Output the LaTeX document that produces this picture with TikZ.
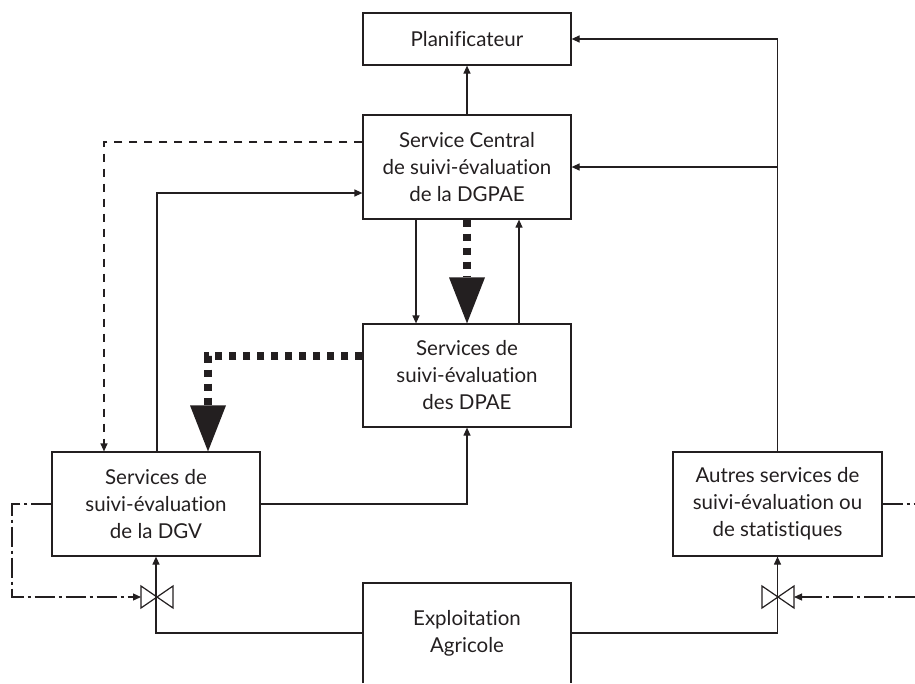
\documentclass[tikz,border=0pt]{standalone}
\usepackage{fontspec}
\setmainfont{Lato}[Ligatures={NoCommon}]
\usetikzlibrary{arrows.meta}
\definecolor{ink}{RGB}{35,31,32}
\begin{document}
\begin{tikzpicture}[x=1pt,y=-1pt,
  box/.style={draw=ink, line width=1.2pt, minimum width=208pt, inner sep=0pt,
    align=center, text=ink, font=\fontsize{20.5}{27}\selectfont},
  openbox/.style={box, draw=none, outer sep=0pt},
  valve/.style={minimum width=32pt, minimum height=22pt, inner sep=0pt, outer sep=0pt},
  tip/.tip={Triangle[length=8pt,width=7pt]},
  bigtip/.tip={Triangle[length=46pt,width=36pt,line width=0pt]},
  link/.style={draw=ink, line width=1.2pt},
  flow/.style={link, -tip},
  dashedflow/.style={flow, dash pattern=on 8pt off 7pt},
  dashdot/.style={link, dash pattern=on 20pt off 4pt on 3pt off 4pt},
  heavy/.style={draw=ink, line width=8.5pt, dash pattern=on 7pt off 7pt, -bigtip},
]
\useasboundingbox (0,0) rectangle (915,683);

% boxes
\node[box, minimum height=52pt]  (plan)    at (467,39)    {Planificateur};
\node[box, minimum height=104pt] (central) at (467,167)   {Service Central\\de suivi-évaluation\\de la DGPAE};
\node[box, minimum height=103pt] (dpae)    at (467,375.5) {Services de\\suivi-évaluation\\des DPAE};
\node[box, minimum height=104pt] (dgv)     at (156,504)   {Services de\\suivi-évaluation\\de la DGV};
\node[box, minimum height=104pt, minimum width=209pt] (autres) at (777.5,504) {Autres services de\\suivi-évaluation ou\\de statistiques};
\node[openbox, minimum height=100pt] (expl) at (467,633) {Exploitation\\Agricole};
\draw[link] (expl.south west) -- (expl.north west) -- (expl.north east) -- (expl.south east);

% valves
\node[valve] (vL) at (157,597) {};
\node[valve] (vR) at (778,597) {};
\foreach \v in {vL,vR}
  \draw[link] (\v.north west) -- (\v.south east) -- (\v.north east) -- (\v.south west) -- cycle;

% free ends of the dash-dot lines
\coordinate (edgeL)  at (12,597);
\coordinate (edgeR1) at (915,504);
\coordinate (edgeR2) at (915,597);

% central service and planner
\draw[flow] (central.north) -- (plan.south);
\draw[flow] (autres.north) |- (plan.east);
\draw[flow] (autres.north |- central.east) -- (central.east);

% central service and DPAE
\draw[flow] ([xshift=-51pt]central.south) -- ([xshift=-51pt]dpae.north);
\draw[flow] ([xshift=52pt]dpae.north) -- ([xshift=52pt]central.south);
\draw[heavy] (central.south) -- (dpae.north);

% DPAE and DGV
\coordinate (hvy) at (208,356);
\draw[heavy] (dpae.west |- hvy) -- (hvy) -- (hvy |- dgv.north);
\draw[flow] (dgv.east) -| (dpae.south);

% DGV and central service
\coordinate (dsh) at (104,142);
\draw[dashedflow] (central.west |- dsh) -- (dsh) -- (dsh |- dgv.north);
\coordinate (sld) at (157,193);
\draw[flow] (sld |- dgv.north) -- (sld) -- (central.west |- sld);

% farm, valves and services
\draw[flow] (expl.west) -| (dgv.south);
\draw[flow] (expl.east) -| (autres.south);
\draw[dashdot, -tip] (dgv.west) -| (edgeL) -- (vL.west);
\draw[dashdot] (autres.east) -- (edgeR1);
\draw[dashdot, -tip] (edgeR2) -- (vR.east);
\end{tikzpicture}
\end{document}
